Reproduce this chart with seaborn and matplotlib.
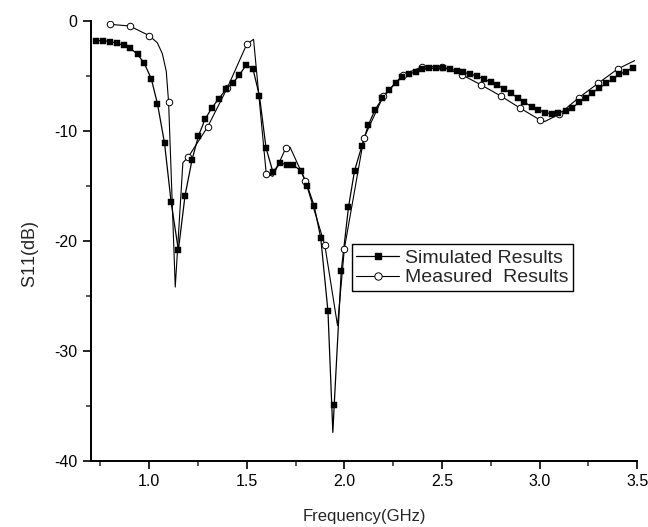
import matplotlib
matplotlib.use("Agg")
import matplotlib.pyplot as plt
from matplotlib.lines import Line2D
from matplotlib.ticker import MultipleLocator
import seaborn as sns
import pandas as pd

# Simulated results (square markers)
sim_freq = [0.727, 0.766, 0.801, 0.835, 0.869, 0.903, 0.941, 0.975, 1.011, 1.043,
            1.079, 1.113, 1.150, 1.184, 1.220, 1.253, 1.287, 1.321, 1.356, 1.395,
            1.429, 1.462, 1.498, 1.532, 1.565, 1.599, 1.634, 1.671, 1.705, 1.739,
            1.778, 1.811, 1.845, 1.879, 1.916, 1.948, 1.984, 2.021, 2.052, 2.090,
            2.123, 2.157, 2.195, 2.230, 2.264, 2.297, 2.332, 2.366, 2.400, 2.435,
            2.471, 2.505, 2.542, 2.576, 2.610, 2.644, 2.678, 2.714, 2.750, 2.784,
            2.818, 2.854, 2.889, 2.922, 2.960, 2.994, 3.029, 3.063, 3.096, 3.134,
            3.168, 3.202, 3.237, 3.270, 3.305, 3.341, 3.375, 3.408, 3.443, 3.477]
sim_s11 = [-1.81, -1.81, -1.90, -2.05, -2.23, -2.50, -3.05, -3.86, -5.26, -7.55,
           -11.12, -16.5, -20.85, -15.9, -12.63, -10.45, -8.94, -7.94, -7.10, -6.22,
           -5.68, -4.92, -4.02, -4.38, -6.83, -11.57, -13.74, -12.93, -13.08, -13.14,
           -13.63, -15.05, -16.8, -19.73, -26.4, -34.9, -22.75, -16.95, -13.63, -11.36,
           -9.46, -8.10, -7.04, -6.28, -5.62, -5.08, -4.86, -4.62, -4.41, -4.32,
           -4.32, -4.32, -4.41, -4.53, -4.68, -4.86, -5.01, -5.29, -5.59, -5.83,
           -6.22, -6.58, -7.04, -7.43, -7.80, -8.10, -8.34, -8.46, -8.40, -8.16,
           -7.89, -7.43, -7.04, -6.53, -6.13, -5.68, -5.29, -4.86, -4.62, -4.26]
# unmarked minimum of the simulated curve
sim_tip_freq = [1.941]
sim_tip_s11 = [-37.4]

# Measured results: curve points and circle markers
meas_line_freq = [0.800, 0.900, 1.000, 1.042, 1.068, 1.088, 1.100, 1.134, 1.173, 1.200,
                  1.300, 1.400, 1.500, 1.535, 1.600, 1.634, 1.700, 1.722, 1.800, 1.900,
                  1.965, 2.000, 2.100, 2.200, 2.300, 2.400, 2.500, 2.600, 2.700, 2.800,
                  2.900, 3.000, 3.026, 3.100, 3.200, 3.300, 3.400, 3.486]
meas_line_s11 = [-0.33, -0.48, -1.35, -2.0, -3.0, -4.6, -7.43, -24.2, -12.9, -12.4,
                 -9.64, -6.13, -2.14, -1.69, -13.93, -14.14, -11.57, -11.5, -14.53, -20.4,
                 -27.7, -20.7, -10.66, -6.83, -4.92, -4.17, -4.17, -4.9, -5.83, -6.83,
                 -7.94, -9.0, -9.16, -8.5, -7.0, -5.68, -4.38, -3.63]
meas_mark_freq = [0.8, 0.9, 1.0, 1.1, 1.2, 1.3, 1.4, 1.5, 1.6, 1.7,
                  1.8, 1.9, 2.0, 2.1, 2.2, 2.3, 2.4, 2.5, 2.6, 2.7,
                  2.8, 2.9, 3.0, 3.1, 3.2, 3.3, 3.4]
meas_mark_s11 = [-0.33, -0.48, -1.35, -7.43, -12.4, -9.64, -6.13, -2.14, -13.93, -11.57,
                 -14.53, -20.4, -20.7, -10.66, -6.83, -4.92, -4.17, -4.17, -4.9, -5.83,
                 -6.83, -7.94, -9.0, -8.5, -7.0, -5.68, -4.38]

legend_labels = ["Simulated Results", "Measured  Results"]
x_label = "Frequency(GHz)"
x_ticks = [1.0, 1.5, 2.0, 2.5, 3.0, 3.5]
x_tick_labels = ["1.0", "1.5", "2.0", "2.5", "3.0", "3.5"]
y_ticks = [-40, -30, -20, -10, 0]
y_tick_labels = ["-40", "-30", "-20", "-10", "0"]

sns.set_style("ticks")
plt.rcParams["font.family"] = ["Liberation Sans", "DejaVu Sans"]
plt.rcParams["mathtext.fontset"] = "custom"
plt.rcParams["mathtext.rm"] = "Liberation Sans"
plt.rcParams["mathtext.it"] = "Liberation Sans:italic"

fig = plt.figure(figsize=(6.48, 5.27), dpi=100)
ax = fig.add_axes([90.5 / 648, 1 - 461 / 527, 546.8 / 648, (461 - 20.7) / 527])

sim_df = pd.DataFrame({"f": sim_freq + sim_tip_freq, "s": sim_s11 + sim_tip_s11}).sort_values("f")
meas_df = pd.DataFrame({"f": meas_line_freq, "s": meas_line_s11})
sim_m = pd.DataFrame({"f": sim_freq, "s": sim_s11})
meas_m = pd.DataFrame({"f": meas_mark_freq, "s": meas_mark_s11})

sns.lineplot(data=meas_df, x="f", y="s", sort=False, estimator=None, color="black",
             lw=0.8, ax=ax, zorder=2)
sns.lineplot(data=sim_df, x="f", y="s", sort=False, estimator=None, color="black",
             lw=0.9, ax=ax, zorder=2)
sns.scatterplot(data=meas_m, x="f", y="s", marker="o", s=22, facecolor="white",
                edgecolor="black", linewidth=0.7, ax=ax, zorder=3)
sns.scatterplot(data=sim_m, x="f", y="s", marker="s", s=18, color="black",
                edgecolor="black", linewidth=0.3, ax=ax, zorder=4)

ax.set_xlim(0.7, 3.5)
ax.set_ylim(-40, 0)
ax.xaxis.set_minor_locator(MultipleLocator(0.25))
ax.yaxis.set_minor_locator(MultipleLocator(5))
ax.set_xticks(x_ticks)
ax.set_xticklabels(x_tick_labels)
ax.set_yticks(y_ticks)
ax.set_yticklabels(y_tick_labels)

for side in ["top", "right"]:
    ax.spines[side].set_visible(False)
for side in ["left", "bottom"]:
    ax.spines[side].set_linewidth(1.4)
    ax.spines[side].set_color("black")
ax.tick_params(which="major", direction="out", length=5.5, width=1.2, labelsize=11.5,
               colors="black", pad=4)
ax.tick_params(which="minor", direction="out", length=3.5, width=1.1)

ax.set_xlabel(x_label, fontsize=12, labelpad=14)
ax.set_ylabel(r"S$\mathit{11}$(dB)", fontsize=13)
ax.yaxis.set_label_coords(-0.090, 0.47)

handles = [
    Line2D([], [], color="black", lw=0.9, marker="s", ms=5, mfc="black", mec="black"),
    Line2D([], [], color="black", lw=0.8, marker="o", ms=5.3, mfc="white", mec="black", mew=0.7),
]
leg = ax.legend(handles, legend_labels, loc="upper left", bbox_to_anchor=(0.4775, 0.492),
                frameon=True, fancybox=False, shadow=False, fontsize=14,
                handlelength=2.2, handletextpad=0.3, borderpad=0.25, labelspacing=0.1,
                borderaxespad=0)
leg.get_frame().set_edgecolor("black")
leg.get_frame().set_linewidth(1.0)
leg.get_frame().set_alpha(1)

fig.savefig("out.png", dpi=100)
